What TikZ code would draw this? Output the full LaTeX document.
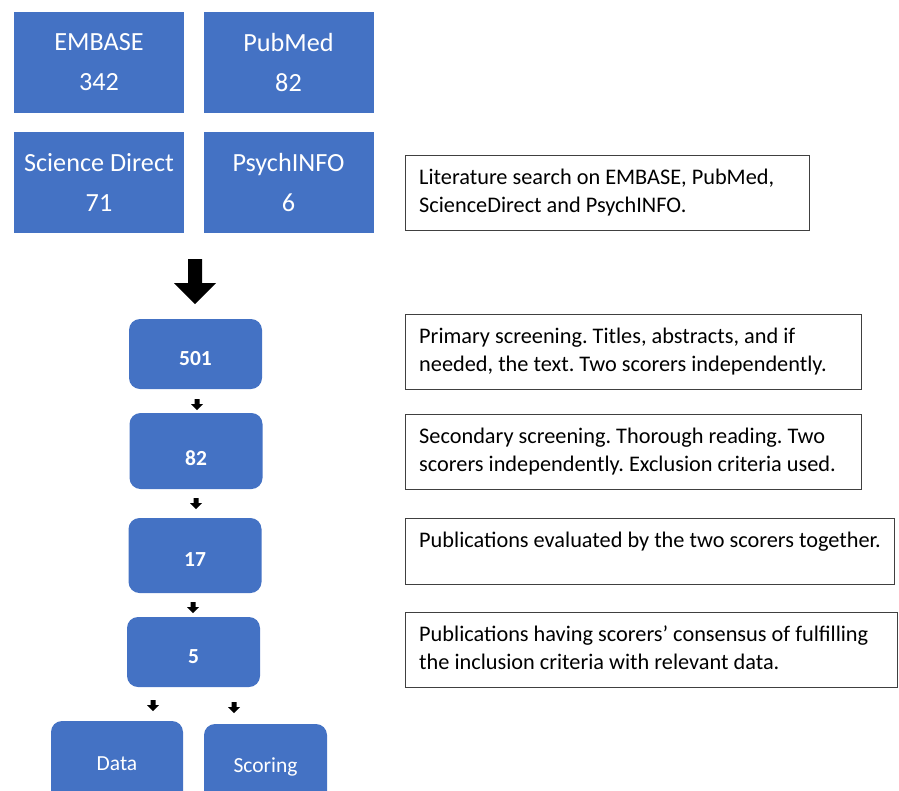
\documentclass[tikz,border=0pt]{standalone}
\usepackage{fontspec}
\setmainfont{Carlito}
\usepackage{xcolor}
\definecolor{boxblue}{HTML}{4472C4}
\definecolor{framegray}{HTML}{404040}

\tikzset{
  bigarrow/.pic={\fill (0,0) -- (-21,-21) -- (-7,-21) -- (-7,-45) -- (7,-45) -- (7,-21) -- (21,-21) -- cycle;},
  smallarrow/.pic={\fill (0,0) -- (-6,-6) -- (-2.5,-6) -- (-2.5,-11) -- (2.5,-11) -- (2.5,-6) -- (6,-6) -- cycle;}
}

\begin{document}
\frenchspacing
\begin{tikzpicture}[x=1pt,y=-1pt]
    \tikzstyle{source}=[fill=boxblue, text=white, minimum width=170pt, minimum height=101pt, inner sep=0pt, align=center, font=\fontsize{26.2}{40}\selectfont]
    \tikzstyle{stage}=[fill=boxblue, text=white, rounded corners=11pt, minimum width=133pt, inner sep=0pt, text height=22pt, text depth=0pt, font=\fontsize{21.5}{25}\selectfont\bfseries]
    \tikzstyle{result}=[fill=boxblue, text=white, rounded corners=11pt, inner sep=0pt, text height=14pt, text depth=0pt, font=\fontsize{21.5}{25}\selectfont]
    \tikzstyle{frame}=[draw=framegray, line width=1pt, anchor=north west, inner sep=0pt]
    \tikzstyle{note}=[anchor=north west, align=left, inner xsep=14pt, inner ysep=9.4pt, font=\fontsize{22.3}{28}\selectfont]

    \path[use as bounding box, clip] (0,0) rectangle (899,790);

    % Databases
    \node[source] (embase) at (99,62.5) {EMBASE\\342};
    \node[source] (pubmed) at (288.5,62.5) {PubMed\\82};
    \node[source] (scidir) at (99,182.5) {Science Direct\\71};
    \node[source] (psych) at (288.5,182.5) {PsychINFO\\6};

    \pic at (195,304) {bigarrow};

    % Screening stages
    \node[stage, minimum height=70pt] (s501) at (195.5,354) {501};
    \node[stage, minimum height=76pt, text height=28pt] (s82) at (196,451) {82};
    \node[stage, minimum height=75pt] (s17) at (195,555.5) {17};
    \node[stage, minimum height=70pt] (s5) at (193.5,652) {5};

    \foreach \x/\y in {197/410, 196/509, 193/613, 153/711, 234/713}
    \pic at (\x,\y) {smallarrow};

    % Outcome
    \node[result, minimum width=132pt, minimum height=85pt] (data) at (117,763.5) {Data};
    \node[result, minimum width=123pt, minimum height=83pt] (scoring) at (265.5,765.5) {Scoring};

    % Notes
    \node[frame, minimum width=404pt, minimum height=75pt] (frameA) at (405,155) {};
    \node[note] (noteA) at (frameA.north west) {\strut Literature search on EMBASE, PubMed,\\ScienceDirect and PsychINFO.};

    \node[frame, minimum width=456pt, minimum height=75pt] (frameB) at (405,314) {};
    \node[note] (noteB) at (frameB.north west) {\strut Primary screening. Titles, abstracts, and if\\needed, the text. Two scorers independently.};

    \node[frame, minimum width=456pt, minimum height=75pt] (frameC) at (405,414) {};
    \node[note] (noteC) at (frameC.north west) {\strut Secondary screening. Thorough reading. Two\\scorers independently. Exclusion criteria used.};

    \node[frame, minimum width=489pt, minimum height=66pt] (frameD) at (405,518) {};
    \node[note] (noteD) at (frameD.north west) {\strut Publications evaluated by the two scorers together.};

    \node[frame, minimum width=492pt, minimum height=75pt] (frameE) at (405,612) {};
    \node[note] (noteE) at (frameE.north west) {\strut Publications having scorers’ consensus of fulfilling\\the inclusion criteria with relevant data.};

\end{tikzpicture}
\end{document}
